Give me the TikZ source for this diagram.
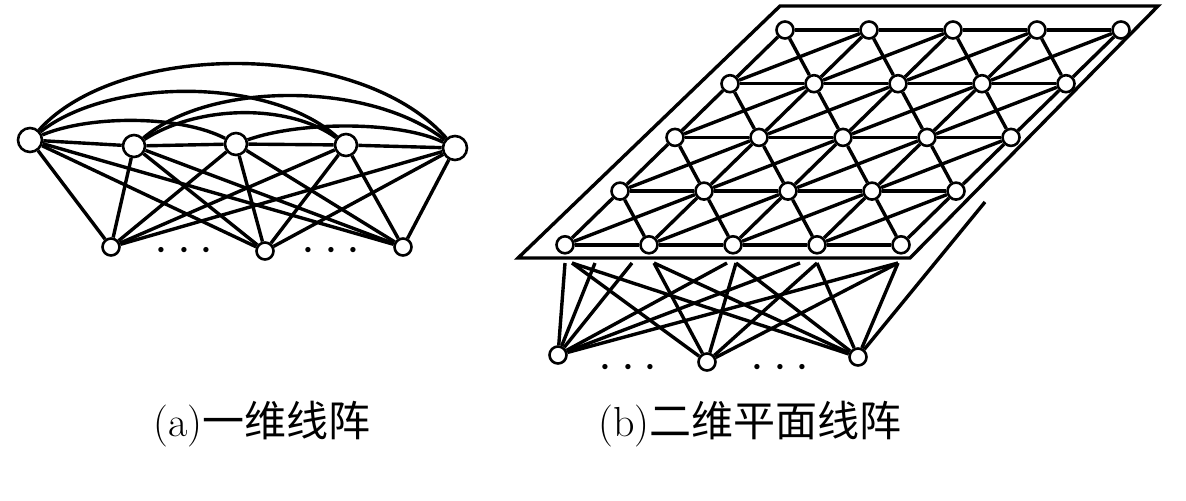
\documentclass[tikz,border=0pt]{standalone}
\usepackage{fontspec}
\newfontfamily\cjk{Noto Sans CJK SC}
\begin{document}
\begin{tikzpicture}[x=0.5pt,y=-0.5pt,line width=1.7pt,
    big/.style={circle,draw,fill=white,line width=1.3pt,inner sep=0pt,minimum size=12pt},
    dot/.style={circle,draw,fill=white,line width=1.3pt,inner sep=0pt,minimum size=8.5pt},
    ellip/.style={inner sep=0pt,font=\fontsize{24}{24}\selectfont},
    captext/.style={inner sep=0pt,font=\fontsize{21}{21}\selectfont}]
  \useasboundingbox (0,0) rectangle (1186,500);

  % (a) one-dimensional array
  \node[big] (a1) at (30,140) {};
  \node[big,minimum size=11pt] (a2) at (134,146) {};
  \node[big,minimum size=11pt] (a3) at (236,144) {};
  \node[big,minimum size=11pt] (a4) at (346,145) {};
  \node[big] (a5) at (455,148) {};
  \node[dot] (b1) at (111,247) {};
  \node[dot] (b2) at (265,251) {};
  \node[dot] (b3) at (403,247) {};

  \draw (a1) -- (a2) -- (a3) -- (a4) -- (a5);
  \draw (a1) .. controls (120,40) and (360,40) .. (a5);
  \draw (a1) .. controls (110,77) and (270,77) .. (a4);
  \draw (a1) .. controls (90,115) and (180,115) .. (a3);
  \draw (a2) .. controls (210,81) and (370,81) .. (a5);
  \draw (a2) .. controls (200,104) and (290,104) .. (a4);
  \draw (a3) .. controls (300,121) and (400,121) .. (a5);
  \foreach \t in {1,...,5}
    \foreach \b in {1,2,3}
      \draw (a\t) -- (b\b);

  \node[ellip] (d1) at (184,251) {$\cdots$};
  \node[ellip] (d2) at (331,251) {$\cdots$};

  % (b) two-dimensional planar array
  \draw (780,6) -- (1158,6) -- (910,258) -- (518,258) -- cycle;

  \foreach \j in {0,...,4}
    \foreach \i in {0,...,4}
      \node[dot] (g\i\j) at ({785+84*\i-55*\j},{30+53.7*\j}) {};

  \foreach \j [count=\jj from 1] in {0,...,3}
    \foreach \i [count=\ii from 1] in {0,...,3} {
      \draw (g\i\j) -- (g\ii\j);
      \draw (g\i\j) -- (g\i\jj);
      \draw (g\i\j) -- (g\ii\jj);
      \draw (g\i\jj) -- (g\ii\j);
    }
  \foreach \i [count=\ii from 1] in {0,...,3}
    \draw (g\i4) -- (g\ii4);
  \foreach \j [count=\jj from 1] in {0,...,3}
    \draw (g4\j) -- (g4\jj);

  \node[dot] (c1) at (558,355) {};
  \node[dot] (c2) at (707,362) {};
  \node[dot] (c3) at (858,357) {};

  % lines running under the plane
  \coordinate (q1) at (565,263);
  \coordinate (q2) at (572,263);
  \coordinate (q3) at (595,263);
  \coordinate (q4) at (632,263);
  \coordinate (q5) at (654,263);
  \coordinate (q6) at (727,263);
  \coordinate (q7) at (736,263);
  \coordinate (q8) at (800,263);
  \coordinate (q9) at (817,263);
  \coordinate (q10) at (898,263);
  \coordinate (tail) at (985,202);

  \foreach \q in {1,3,4,6,8,10}
    \draw (c1) -- (q\q);
  \foreach \q in {2,5,7,9,10}
    \draw (c2) -- (q\q);
  \foreach \q in {2,5,7,9,10}
    \draw (c3) -- (q\q);
  \draw (c3) -- (tail);

  \node[ellip] (d3) at (628,368) {$\cdots$};
  \node[ellip] (d4) at (780,368) {$\cdots$};

  % captions
  \node[captext] (la) at (262,424) {(a)\cjk 一维线阵};
  \node[captext] (lb) at (750,424) {(b)\cjk 二维平面线阵};
\end{tikzpicture}
\end{document}
